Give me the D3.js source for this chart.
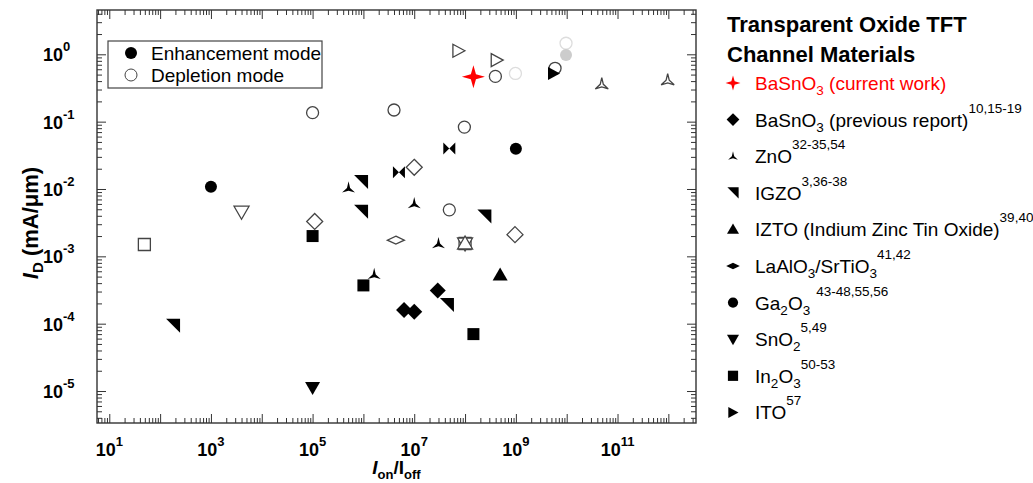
<!DOCTYPE html>
<html>
<head>
<meta charset="utf-8">
<script src="https://cdn.jsdelivr.net/npm/d3@7"></script>
<style>
body { margin: 0; background: #fff; }
text { font-family: "Liberation Sans", Arial, sans-serif; fill: #000; }
</style>
</head>
<body>
<div id="chart"></div>
<script>
// each point: [Ion/Ioff, ID (mA/um), mode]  E = enhancement, D = depletion
var basno3Current = [[1.46e8, 0.465, "E"]];
var basno3Prev = [[6.3e6, 1.6e-4, "E"], [1.0e7, 1.5e-4, "E"], [2.9e7, 3.1e-4, "E"],
                  [1.1e5, 3.3e-3, "D"], [1.0e7, 2.1e-2, "D"], [9.6e8, 2.1e-3, "D"]];
var zno = [[5.1e5, 1.04e-2, "E"], [1.0e7, 6.1e-3, "E"], [3.0e7, 1.55e-3, "E"], [1.63e6, 5.4e-4, "E"],
           [4.9e10, 0.36, "D"], [9.7e11, 0.415, "D"]];
var igzo = [[1.8e2, 9.3e-5, "E"], [9.0e5, 1.27e-2, "E"], [9.0e5, 4.6e-3, "E"],
            [2.4e8, 3.9e-3, "E"], [4.4e7, 1.9e-4, "E"]];
var izto = [[4.9e8, 5.3e-4, "E"], [1.0e8, 1.55e-3, "D"]];
var lao = [[4.35e6, 1.74e-3, "D"]];
var ga2o3 = [[1.0e3, 1.08e-2, "E"], [1.0e9, 3.95e-2, "E"],
             [1.0e5, 0.136, "D"], [4.0e6, 0.149, "D"], [9.7e7, 0.083, "D"],
             [4.9e7, 4.9e-3, "D"], [3.95e8, 0.47, "D"], [5.9e9, 0.62, "D"]];
var ga2o3Faded = [[9.8e8, 0.52, "D"], [9.7e9, 1.46, "D"], [9.7e9, 0.977, "E"]];
var sno2 = [[1.0e5, 1.13e-5, "E"], [4.0e3, 4.6e-3, "D"], [1.0e8, 1.55e-3, "D"]];
var in2o3 = [[1.0e5, 2.0e-3, "E"], [1.0e6, 3.7e-4, "E"], [1.46e8, 7.0e-5, "E"],
             [49, 1.5e-3, "D"], [1.0e8, 1.55e-3, "D"]];
var ito = [[5.5e9, 0.52, "E"], [7.4e7, 1.13, "D"], [4.2e8, 0.82, "D"]];
var bowtie = [[4.9e7, 4.0e-2, "E"], [5.0e6, 1.78e-2, "E"]]; // not in the legend

var xTickExp = [1, 3, 5, 7, 9, 11];
var yTickExp = [0, -1, -2, -3, -4, -5];

var modeLabels = ["Enhancement mode", "Depletion mode"];

// legend text parts: [text, kind]
var legendLabels = [
    [["BaSnO", ""], ["3", "sub"], [" (current work)", ""]],
    [["BaSnO", ""], ["3", "sub"], [" (previous report)", ""], ["10,15-19", "sup"]],
    [["ZnO", ""], ["32-35,54", "sup"]],
    [["IGZO", ""], ["3,36-38", "sup"]],
    [["IZTO (Indium Zinc Tin Oxide)", ""], ["39,40", "sup"]],
    [["LaAlO", ""], ["3", "sub"], ["/SrTiO", ""], ["3", "sub"], ["41,42", "sup"]],
    [["Ga", ""], ["2", "sub"], ["O", ""], ["3", "sub"], ["43-48,55,56", "supgap"]],
    [["SnO", ""], ["2", "sub"], ["5,49", "sup"]],
    [["In", ""], ["2", "sub"], ["O", ""], ["3", "sub"], ["50-53", "sup"]],
    [["ITO", ""], ["57", "sup"]]
];

// marker shapes
function shape(type, k) {
    k = k || 1;
    var p = d3.path();
    function poly(pts) {
        pts.forEach((q, i) => i ? p.lineTo(q[0] * k, q[1] * k) : p.moveTo(q[0] * k, q[1] * k));
        p.closePath();
    }
    if (type == "circle") { p.arc(0, 0, 6 * k, 0, 2 * Math.PI); p.closePath(); }
    if (type == "diamond") poly([[0, -8], [8, 0], [0, 8], [-8, 0]]);
    if (type == "flat") poly([[0, -4], [8.5, 0], [0, 4], [-8.5, 0]]);
    if (type == "square") poly([[-6, -6], [6, -6], [6, 6], [-6, 6]]);
    if (type == "up") poly([[0, -7.5], [7.5, 5.5], [-7.5, 5.5]]);
    if (type == "down") poly([[0, 7.5], [7.5, -5.5], [-7.5, -5.5]]);
    if (type == "right") poly([[6.5, 0], [-5.5, -6.5], [-5.5, 6.5]]);
    if (type == "igzo") poly([[-7, -7], [7, -7], [7, 7]]);
    if (type == "bowtie") { poly([[-6, -6], [0, 0], [-6, 6]]); poly([[6, -6], [0, 0], [6, 6]]); }
    if (type == "zno") {
        var pts = [];
        for (var i = 0; i < 6; i++) {
            var a = -Math.PI / 2 + i * Math.PI / 3, r = i % 2 ? 1.8 : 7.5;
            pts.push([r * Math.cos(a), r * Math.sin(a) + 1]);
        }
        poly(pts);
    }
    if (type == "star4") {
        var pts = [];
        for (var i = 0; i < 8; i++) {
            var a = -Math.PI / 2 + i * Math.PI / 4, r = i % 2 ? 3.6 : 11.5;
            pts.push([r * Math.cos(a), r * Math.sin(a)]);
        }
        poly(pts);
    }
    return p.toString();
}

var series = [
    {data: bowtie, type: "bowtie"},
    {data: in2o3, type: "square"},
    {data: sno2, type: "down"},
    {data: izto, type: "up"},
    {data: igzo, type: "igzo"},
    {data: zno, type: "zno"},
    {data: lao, type: "flat"},
    {data: basno3Prev, type: "diamond"},
    {data: ga2o3Faded, type: "circle", faded: true},
    {data: ga2o3, type: "circle"},
    {data: ito, type: "right"},
    {data: basno3Current, type: "star4", color: "#f00"}
];
var legendTypes = ["star4", "diamond", "zno", "igzo", "up", "flat", "circle", "down", "square", "right"];
var legendScale = [0.65, 0.8, 0.75, 0.8, 0.8, 0.8, 0.85, 0.8, 0.85, 0.85];

var margin = {top: 10, right: 337, bottom: 60, left: 97},
    width = 1033 - margin.left - margin.right,
    height = 483 - margin.top - margin.bottom;

var x = d3.scaleLog().domain([5.73, 3.5e12]).range([0, width]);
var y = d3.scaleLog().domain([3.35e-6, 4.55]).range([height, 0]);

var root = d3.select("#chart").append("svg")
    .attr("width", 1033)
    .attr("height", 483);
var svg = root.append("g")
    .attr("transform", `translate(${margin.left}, ${margin.top})`);

// ticks, all pointing inside
function majors(sc) {
    var d = sc.domain().map(Math.log10), out = [];
    for (var e = Math.ceil(d[0]); e <= Math.floor(d[1]); e++) out.push(Math.pow(10, e));
    return out;
}
function minors(sc) {
    var d = sc.domain(), out = [];
    for (var e = Math.floor(Math.log10(d[0])); e <= Math.ceil(Math.log10(d[1])); e++)
        for (var k = 2; k < 10; k++) {
            var v = k * Math.pow(10, e);
            if (v > d[0] && v < d[1]) out.push(v);
        }
    return out;
}
var tickColor = "#333";
[[d3.axisBottom(x), `translate(0, ${height})`, x],
 [d3.axisTop(x), "translate(0, 0)", x],
 [d3.axisLeft(y), "translate(0, 0)", y],
 [d3.axisRight(y), `translate(${width}, 0)`, y]].forEach(a => {
    [[majors(a[2]), 9], [minors(a[2]), 5]].forEach(t => {
        svg.append("g")
            .attr("transform", a[1])
            .call(a[0].tickValues(t[0]).tickSize(-t[1]).tickFormat(""))
            .call(g => g.select(".domain").remove())
            .selectAll("line").attr("stroke", tickColor).attr("stroke-width", 1);
    });
});

svg.append("rect")
    .attr("width", width)
    .attr("height", height)
    .attr("fill", "none")
    .attr("stroke", "#333")
    .attr("stroke-width", 1.4);

// tick labels
var xl = svg.selectAll("text.xLabels")
        .data(xTickExp).enter()
    .append("text")
        .attr("x", d => x(Math.pow(10, d)))
        .attr("y", height + 33)
        .attr("text-anchor", "middle")
        .style("font-weight", "bold")
        .style("font-size", "18px");
xl.append("tspan").text("10");
xl.append("tspan").attr("dy", -10).style("font-size", "13px").text(d => d);

var yl = svg.selectAll("text.yLabels")
        .data(yTickExp).enter()
    .append("text")
        .attr("x", -54)
        .attr("y", d => y(Math.pow(10, d)) + 7)
        .style("font-weight", "bold")
        .style("font-size", "18px");
yl.append("tspan").text("10");
yl.append("tspan").attr("dy", -10).style("font-size", "13px").text(d => d);

// axis titles
var xt = svg.append("text")
    .attr("x", width / 2)
    .attr("y", height + 51)
    .attr("text-anchor", "middle")
    .style("font-weight", "bold")
    .style("font-size", "19px");
xt.append("tspan").style("font-style", "italic").text("I");
xt.append("tspan").attr("dy", 5).style("font-size", "13px").text("on");
xt.append("tspan").attr("dy", -5).text("/I");
xt.append("tspan").attr("dy", 5).style("font-size", "13px").text("off");

var yt = svg.append("text")
    .attr("transform", "rotate(-90)")
    .attr("x", -213)
    .attr("y", -59)
    .attr("text-anchor", "middle")
    .style("font-weight", "bold")
    .style("font-size", "22px");
yt.append("tspan").style("font-style", "italic").text("I");
yt.append("tspan").attr("dy", 5).style("font-size", "15px").text("D");
yt.append("tspan").attr("dy", -5).text(" (mA/\u03bcm)");

// points
series.forEach(s => {
    svg.append("g").selectAll("path")
            .data(s.data).enter()
        .append("path")
            .attr("d", shape(s.type))
            .attr("transform", d => `translate(${x(d[0])}, ${y(d[1])})`)
            .attr("fill", d => s.color ? s.color : s.faded ? (d[2] == "E" ? "#ccc" : "#fff") : (d[2] == "E" ? "#000" : "#fff"))
            .attr("stroke", d => s.color ? "none" : s.faded ? (d[2] == "E" ? "none" : "#ddd") : (d[2] == "E" ? "none" : "#444"))
            .attr("stroke-width", 1.3);
});

// mode legend inside the plot
var ml = svg.append("g").attr("transform", "translate(11, 31)");
ml.append("rect")
    .attr("width", 214)
    .attr("height", 47)
    .attr("fill", "#fff")
    .attr("stroke", "#444")
    .attr("stroke-width", 1.2);
ml.selectAll("path")
        .data(modeLabels).enter()
    .append("path")
        .attr("d", shape("circle"))
        .attr("transform", (d, i) => `translate(23, ${12 + 22 * i})`)
        .attr("fill", (d, i) => i ? "#fff" : "#000")
        .attr("stroke", (d, i) => i ? "#444" : "none");
ml.selectAll("text")
        .data(modeLabels).enter()
    .append("text")
        .attr("x", 43)
        .attr("y", (d, i) => 19 + 22 * i)
        .style("font-size", "19px")
        .text(d => d);

// material legend on the right
var lg = root.append("g").attr("transform", "translate(727, 0)");
lg.selectAll("text.title")
        .data(["Transparent Oxide TFT", "Channel Materials"]).enter()
    .append("text")
        .attr("y", (d, i) => 32 + 30 * i)
        .style("font-weight", "bold")
        .style("font-size", "22px")
        .text(d => d);

legendLabels.forEach((parts, i) => {
    var base = 90 + 36.6 * i;
    lg.append("path")
        .attr("d", shape(legendTypes[i], legendScale[i]))
        .attr("transform", `translate(6, ${base - 7})`)
        .attr("fill", i ? "#000" : "#f00");
    var t = lg.append("text")
        .attr("x", 28)
        .attr("y", base)
        .style("font-size", "19px")
        .style("fill", i ? "#000" : "#f00");
    var off = 0;
    parts.forEach(p => {
        var target = p[1] == "sub" ? 5 : p[1].startsWith("sup") ? -14 : 0;
        var ts = t.append("tspan").attr("dy", target - off).text(p[0]);
        if (p[1] == "supgap") ts.attr("dx", 6);
        if (p[1]) ts.style("font-size", "13.5px");
        off = target;
    });
});
</script>
</body>
</html>
